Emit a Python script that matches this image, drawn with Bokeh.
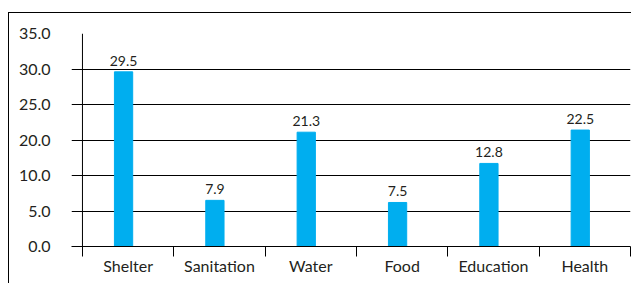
from bokeh.plotting import figure
from bokeh.models import ColumnDataSource, FixedTicker, Range1d, Span
from bokeh.core.properties import value
from bokeh.transform import dodge
from bokeh.embed import file_html
from bokeh.resources import INLINE

categories = ["Shelter", "Sanitation", "Water", "Food", "Education", "Health"]
value_labels = ["29.5", "7.9", "21.3", "7.5", "12.8", "22.5"]
# bar heights as drawn on the chart's (evenly spaced) grid
bar_heights = [24.6, 6.5, 16.1, 6.2, 11.7, 16.4]
y_tick_values = [0, 5, 10, 15, 20, 25, 30]
y_tick_labels = ["0.0", "5.0", "10.0", "20.0", "25.0", "30.0", "35.0"]

centers = [i + 0.5 for i in range(len(categories))]
boundaries = list(range(len(categories) + 1))

src = ColumnDataSource(dict(x=centers, h=bar_heights, lbl=value_labels))

p = figure(width=623, height=271,
           x_range=Range1d(-0.12, len(categories)), y_range=Range1d(0, 30),
           output_backend="svg", toolbar_location=None,
           min_border_left=62, min_border_right=2,
           min_border_top=20, min_border_bottom=38)
p.styles = {"margin-top": "12px", "margin-left": "8px",
            "border-top": "1px solid #000", "border-left": "1px solid #000"}
p.outline_line_color = None
p.background_fill_color = "white"
p.border_fill_color = "white"

p.vbar(x=dodge("x", -0.05), top="h", width=0.2, color="#00AEEF", source=src)
p.text(x=dodge("x", -0.05), y="h", text="lbl", source=src, text_align="center",
       text_baseline="bottom", y_offset=-6, text_font=value("Lato"),
       text_font_size="14px", text_color="#231f20")

p.add_layout(Span(location=0, dimension="height", line_color="#000",
                  line_width=1))

xa = p.xaxis[0]
xa.ticker = FixedTicker(ticks=centers, minor_ticks=boundaries)
xa.major_label_overrides = {c: n for c, n in zip(centers, categories)}
xa.major_tick_in = 0
xa.major_tick_out = 0
xa.minor_tick_in = 0
xa.minor_tick_out = 10
xa.minor_tick_line_color = "#000"
xa.axis_line_color = "#000"
xa.major_label_standoff = -1
xa.major_label_text_font = "Lato"
xa.major_label_text_font_size = "16px"
xa.major_label_text_color = "#231f20"

ya = p.yaxis[0]
ya.ticker = FixedTicker(ticks=y_tick_values)
ya.major_label_overrides = {v: t for v, t in zip(y_tick_values, y_tick_labels)}
ya.axis_line_color = None
ya.major_tick_line_color = None
ya.minor_tick_line_color = None
ya.major_tick_in = 0
ya.major_tick_out = 0
ya.minor_tick_in = 0
ya.minor_tick_out = 0
ya.major_label_standoff = 21
ya.major_label_text_font = "Lato"
ya.major_label_text_font_size = "16px"
ya.major_label_text_color = "#231f20"

p.xgrid.visible = False
p.ygrid.grid_line_color = "#000"
p.ygrid.grid_line_width = 1

open("out.html", "w").write(file_html(p, INLINE))
